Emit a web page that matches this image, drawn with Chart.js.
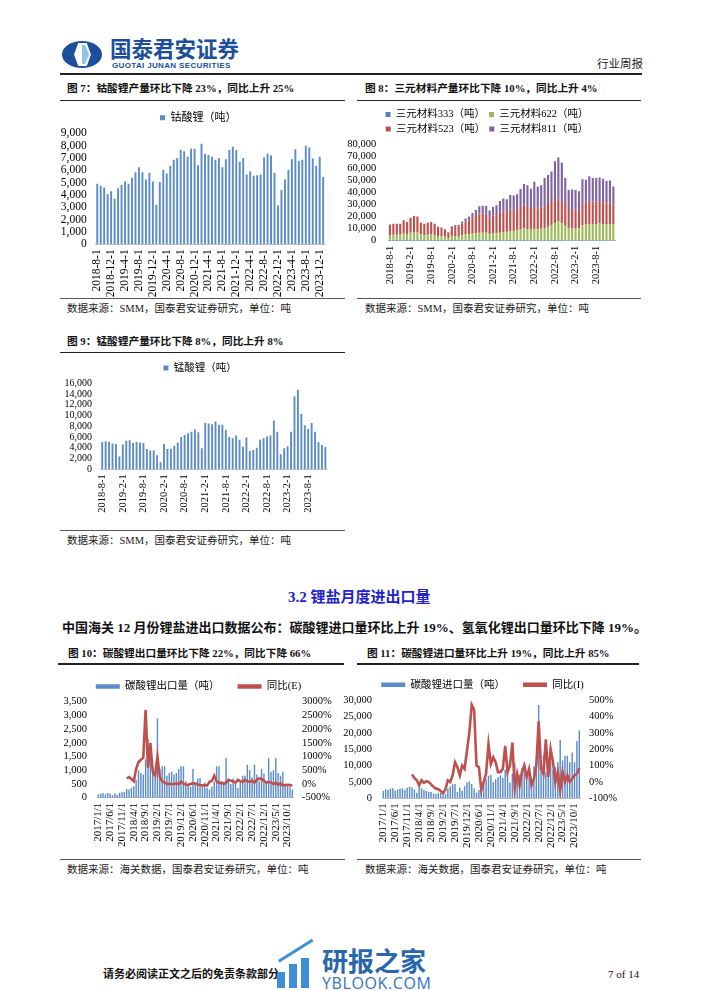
<!DOCTYPE html>
<html><head><meta charset="utf-8">
<script src="https://cdn.jsdelivr.net/npm/chart.js@4.4.1/dist/chart.umd.min.js"></script>
<style>
html,body{margin:0;padding:0;background:#fff;}
body{width:702px;height:991px;position:relative;overflow:hidden;font-family:'Liberation Serif','Noto Sans CJK SC',serif;color:#111;}
.t{position:absolute;white-space:nowrap;line-height:1;}
.r{position:absolute;background:#222;}
canvas{position:absolute;}
</style></head><body>

<!-- header -->
<div class="r" style="left:62px;top:41px;width:40px;height:27px;border-radius:50%;background:#1b4f9c"></div>
<div class="r" style="left:74px;top:43px;width:17px;height:23px;background:#fff;clip-path:polygon(25% 0,75% 0,100% 50%,75% 100%,25% 100%,0 50%)"></div>
<div class="r" style="left:82px;top:45px;width:7px;height:19px;background:#8fc3ea;clip-path:polygon(0 0,45% 0,100% 50%,45% 100%,0 100%)"></div>
<div class="t" style="left:110px;top:37px;font-family:'Noto Sans CJK SC';font-weight:bold;font-size:21.5px;color:#1b4f9c;">国泰君安证券</div>
<div class="t" style="left:112px;top:61.5px;font-family:'Liberation Sans';font-weight:bold;font-size:8px;color:#1b4f9c;letter-spacing:0.35px;">GUOTAI JUNAN SECURITIES</div>
<div class="t" style="left:597px;top:58px;font-family:'Noto Sans CJK SC';font-size:11.5px;color:#222;">行业周报</div>
<div class="r" style="left:60px;top:73px;width:582px;height:1.5px;"></div>

<!-- titles row 1 -->
<div class="t" style="left:67px;top:83px;font-weight:bold;font-size:10.7px;">图 7：钴酸锂产量环比下降 23%，同比上升 25%</div>
<div class="t" style="left:365px;top:83px;font-weight:bold;font-size:10.7px;">图 8：三元材料产量环比下降 10%，同比上升 4%</div>
<div class="r" style="left:60px;top:99.5px;width:285px;height:1.5px;"></div>
<div class="r" style="left:357px;top:99.5px;width:284px;height:1.5px;"></div>

<div class="r" style="left:60px;top:298px;width:285px;height:1px;background:#555"></div>
<div class="r" style="left:357px;top:298px;width:284px;height:1px;background:#555"></div>
<div class="t" style="left:67px;top:304px;font-size:10.5px;color:#222;">数据来源：SMM，国泰君安证券研究，单位：吨</div>
<div class="t" style="left:365px;top:304px;font-size:10.5px;color:#222;">数据来源：SMM，国泰君安证券研究，单位：吨</div>

<!-- chart 9 titles -->
<div class="t" style="left:67px;top:336px;font-weight:bold;font-size:10.7px;">图 9：锰酸锂产量环比下降 8%，同比上升 8%</div>
<div class="r" style="left:60px;top:351.5px;width:285px;height:1.5px;"></div>
<div class="r" style="left:60px;top:530px;width:285px;height:1px;background:#555"></div>
<div class="t" style="left:67px;top:536px;font-size:10.5px;color:#222;">数据来源：SMM，国泰君安证券研究，单位：吨</div>

<!-- section -->
<div class="t" style="left:288px;top:590px;font-weight:bold;font-size:15px;color:#2222cc;">3.2 锂盐月度进出口量</div>
<div class="t" style="left:62px;top:621px;font-weight:bold;font-size:13px;color:#111;">中国海关 12 月份锂盐进出口数据公布：碳酸锂进口量环比上升 19%、氢氧化锂出口量环比下降 19%。</div>

<div class="t" style="left:68px;top:648px;font-weight:bold;font-size:10.7px;">图 10：碳酸锂出口量环比下降 22%，同比下降 66%</div>
<div class="t" style="left:367px;top:648px;font-weight:bold;font-size:10.7px;">图 11：碳酸锂进口量环比上升 19%，同比上升 85%</div>
<div class="r" style="left:58px;top:663px;width:286px;height:1.5px;"></div>
<div class="r" style="left:357px;top:663px;width:282px;height:1.5px;"></div>
<div class="r" style="left:60px;top:859px;width:285px;height:1px;background:#555"></div>
<div class="r" style="left:357px;top:859px;width:284px;height:1px;background:#555"></div>
<div class="t" style="left:67px;top:865px;font-size:10.5px;color:#222;">数据来源：海关数据，国泰君安证券研究，单位：吨</div>
<div class="t" style="left:365px;top:865px;font-size:10.5px;color:#222;">数据来源：海关数据，国泰君安证券研究，单位：吨</div>

<!-- footer -->
<div class="t" style="left:103px;top:969px;font-weight:bold;font-size:11px;color:#111;">请务必阅读正文之后的免责条款部分</div>
<div class="t" style="left:608px;top:969px;font-size:11px;color:#111;">7 of 14</div>
<div class="r" style="left:277px;top:972px;width:8px;height:16px;background:#3f8fd8"></div>
<div class="r" style="left:289px;top:964px;width:8px;height:24px;background:#3f8fd8"></div>
<div class="r" style="left:301px;top:958px;width:8px;height:30px;background:#3f8fd8"></div>
<div class="r" style="left:278px;top:960px;width:40px;height:3px;background:#3f8fd8;transform:rotate(-32deg);transform-origin:0 0;"></div>
<div class="t" style="left:322px;top:947px;font-family:'Noto Sans CJK SC';font-weight:bold;font-size:26px;color:#2a66ad;">研报之家</div>
<div class="t" style="left:322px;top:975px;font-family:'Open Sans';font-size:16px;color:#3473bd;letter-spacing:0.6px;">YBLOOK.COM</div>

<canvas id="c7" width="284" height="200" style="left:58px;top:100px"></canvas>
<canvas id="c8" width="285" height="187" style="left:346px;top:100px"></canvas>
<canvas id="c9" width="283" height="168" style="left:60px;top:352px"></canvas>
<canvas id="c10" width="275" height="200" style="left:61px;top:650px"></canvas>
<canvas id="c11" width="281" height="201" style="left:342px;top:650px"></canvas>

<script>
// ---------- data ----------
const monthsA = ['2018-8-1','2018-9-1','2018-10-1','2018-11-1','2018-12-1',
'2019-1-1','2019-2-1','2019-3-1','2019-4-1','2019-5-1','2019-6-1','2019-7-1','2019-8-1','2019-9-1','2019-10-1','2019-11-1','2019-12-1',
'2020-1-1','2020-2-1','2020-3-1','2020-4-1','2020-5-1','2020-6-1','2020-7-1','2020-8-1','2020-9-1','2020-10-1','2020-11-1','2020-12-1',
'2021-1-1','2021-2-1','2021-3-1','2021-4-1','2021-5-1','2021-6-1','2021-7-1','2021-8-1','2021-9-1','2021-10-1','2021-11-1','2021-12-1',
'2022-1-1','2022-2-1','2022-3-1','2022-4-1','2022-5-1','2022-6-1','2022-7-1','2022-8-1','2022-9-1','2022-10-1','2022-11-1','2022-12-1',
'2023-1-1','2023-2-1','2023-3-1','2023-4-1','2023-5-1','2023-6-1','2023-7-1','2023-8-1','2023-9-1','2023-10-1','2023-11-1','2023-12-1',
'2024-1-1'];

const licoo2 = [4900,4750,4600,4050,4300,
3700,4550,4800,5100,4900,5400,5850,6250,5850,5250,5800,5100,
3200,5050,6050,5750,6350,6850,7000,7650,7550,7100,7750,7750,
6400,8150,7350,7250,7100,6850,7000,6250,6900,7650,7900,7650,
6700,7000,5650,5900,5550,5600,5650,7050,7350,7200,5800,3150,
4400,5250,6050,6900,7700,6750,6850,8000,7850,6950,6350,7100,
5450];

const ncm333 = [700,700,700,700,800,800,900,900,900,700,600,600,600,600,500,500,400,300,500,500,500,600,600,600,700,700,700,700,700,600,600,600,600,600,600,600,600,600,600,600,600,600,500,500,500,500,500,500,500,500,500,400,400,400,400,400,400,400,400,400,400,400,400,400,400,400];
const ncm622 = [4000,4200,4300,4300,5000,4700,5800,6300,6000,4500,4000,4300,4500,4000,3300,3200,2800,2000,3300,3500,3500,4000,4500,4800,5200,5500,6000,6000,6000,4800,5300,5500,6000,6500,6800,7500,7500,8000,8500,9500,9000,8500,9000,9000,9500,10000,11000,12500,14000,15500,14000,12000,10000,9500,9500,10000,12500,13000,13500,13500,13500,14000,13500,13000,13500,13500];
const ncm523 = [8800,9100,9000,9000,11200,10000,12300,13300,13100,9800,9400,10100,10400,9400,7700,7300,6300,4700,7700,8000,7800,9600,10900,11600,13100,14300,15800,16000,15800,13600,15100,15400,16900,17400,16600,17900,17400,17400,18900,19900,19400,18000,18500,17500,17500,18500,19000,20000,19000,19000,18500,18000,16000,16500,16000,15500,18000,18000,19000,18500,18500,18500,18000,17500,17500,16000];
const ncm811 = [0,0,0,0,0,0,0,0,0,0,0,0,0,0,0,0,0,0,500,1000,1200,1800,2500,3000,4000,5000,6000,6300,6500,6000,7000,8000,9500,10500,10500,12000,12000,12500,15000,17000,17000,16000,21000,18000,18500,23000,24000,24500,32500,34000,32000,21600,15600,16100,16100,15100,20100,19100,20600,19600,19600,19600,19600,18600,18600,15100];

const limn2o4 = [5100,5200,5100,4800,4700,2400,4600,5300,5400,4900,5100,5000,4900,3800,3500,3500,2600,1300,4700,3800,3800,4400,5000,6000,6400,6700,7000,7400,6900,3900,8600,8500,8400,8900,8300,8300,7300,6000,5800,6300,5500,4200,5900,3400,3600,4000,5500,5800,6100,6300,9100,7000,2800,3900,4300,7000,13600,14800,10300,8200,7500,8600,7000,5100,4500,4200];

const monthsB = ['2017/1/1','2017/2/1','2017/3/1','2017/4/1','2017/5/1','2017/6/1','2017/7/1','2017/8/1','2017/9/1','2017/10/1','2017/11/1','2017/12/1',
'2018/1/1','2018/2/1','2018/3/1','2018/4/1','2018/5/1','2018/6/1','2018/7/1','2018/8/1','2018/9/1','2018/10/1','2018/11/1','2018/12/1',
'2019/1/1','2019/2/1','2019/3/1','2019/4/1','2019/5/1','2019/6/1','2019/7/1','2019/8/1','2019/9/1','2019/10/1','2019/11/1','2019/12/1',
'2020/2/1','2020/3/1','2020/4/1','2020/5/1','2020/6/1','2020/7/1','2020/8/1','2020/9/1','2020/10/1','2020/11/1','2020/12/1',
'2021/1/1','2021/2/1','2021/3/1','2021/4/1','2021/5/1','2021/6/1','2021/7/1','2021/8/1','2021/9/1','2021/10/1','2021/11/1','2021/12/1',
'2022/1/1','2022/2/1','2022/3/1','2022/4/1','2022/5/1','2022/6/1','2022/7/1','2022/8/1','2022/9/1','2022/10/1','2022/11/1','2022/12/1',
'2023/1/1','2023/2/1','2023/3/1','2023/4/1','2023/5/1','2023/6/1','2023/7/1','2023/8/1','2023/9/1','2023/10/1','2023/11/1','2023/12/1'];

const exportQty = [120,150,170,130,170,150,90,160,110,180,200,210,
320,300,360,420,650,1000,900,850,1400,2150,1900,1150,
700,2900,1050,1150,1150,800,900,950,850,900,1050,1150,
1150,600,450,400,1050,500,700,720,500,550,350,
300,400,600,1150,1150,600,550,1450,600,500,700,500,
350,550,800,800,1200,1000,750,1200,850,600,1050,880,
600,1450,950,1000,1450,900,800,950,450,500,390,300];

const exportYoY = [null,null,null,null,null,null,null,null,null,null,null,null,
200,250,180,100,550,800,880,950,2700,600,1500,450,
300,1000,250,100,50,0,10,-10,0,20,0,80,
10,-20,-30,0,30,20,-20,-40,-50,-40,-60,
80,120,300,100,30,50,0,50,150,120,100,50,
150,100,80,150,100,80,120,50,150,200,180,120,
50,80,50,-10,50,-30,20,-50,-40,-30,-40,-66];

const importQty = [2200,2800,2500,3000,3100,2300,2700,3000,3100,2600,3200,3500,
3400,2700,1700,3500,3100,2500,2200,2000,1900,1500,1300,1700,
1600,900,1200,3000,3600,4300,4400,1900,3300,2300,3700,4800,
5200,4400,3000,1800,2500,3300,4600,5800,6900,7200,5000,
5800,6500,7000,6300,8800,9600,4800,7600,10600,8000,7200,9200,
11000,6000,8500,5600,9800,12000,28500,10000,13000,8000,10000,11200,
8500,9500,11000,17800,11500,13000,13000,11000,14000,11000,17500,20800];

const importYoY = [null,null,null,null,null,null,null,null,null,null,null,null,
45,25,10,-20,10,-5,5,0,-15,-30,-40,-45,
-55,-70,-45,10,0,40,120,90,40,100,80,190,
300,470,440,100,90,-50,0,50,230,110,150,
120,60,60,80,220,60,100,240,-40,50,-20,60,
100,30,80,-20,20,100,370,80,50,260,30,200,
120,0,60,-50,60,0,40,0,20,40,50,85];

// ---------- styling ----------
const BAR = '#5b8bc8';
const BLUE = '#4f81bd', RED = '#c0504d', GREEN = '#9bbb59', PURPLE = '#8064a2';
const FAM = "'Liberation Serif','Noto Sans CJK SC',serif";
Chart.defaults.font.family = FAM;
Chart.defaults.color = '#000';

const base = (pad) => ({
  responsive:false, devicePixelRatio:1, animation:false, events:[],
  layout:{padding:pad},
  plugins:{tooltip:{enabled:false}}
});
const xAxis = (labels, step, size, h) => ({
  grid:{display:false, drawTicks:false},
  border:{display:true, color:'#bfbfbf', width:1},
  ticks:{autoSkip:false, maxRotation:90, minRotation:90, padding:5, font:{size:size}, color:'#000',
         callback:(v,i)=> (i % step === 0) ? labels[i] : ''},
  afterFit:(s)=>{ s.height = h; }
});
const yAxis = (max, step, size, w, pad, pos, fmt, min) => ({
  position:pos||'left', min:(min===undefined?0:min), max:max,
  grid:{display:false, drawTicks:false}, border:{display:false},
  ticks:{stepSize:step, autoSkip:false, padding:pad, font:{size:size}, color:'#000', callback:fmt},
  afterFit:(s)=>{ s.width = w; }
});
const comma = (v)=> v.toLocaleString('en-US');
const pct = (v)=> v + '%';

// chart 7
(function(){
  const o = base({top:8.3, right:3.5, left:0, bottom:0});
  o.plugins.legend = {position:'top', labels:{boxWidth:5, boxHeight:5, padding:4, font:{size:11}, color:'#000'}};
  o.scales = {x:xAxis(monthsA,4,11.5,55.7), y:yAxis(9000,1000,11.5,37.5,8.8,'left',comma)};
  new Chart(document.getElementById('c7'), {type:'bar',
    data:{labels:monthsA, datasets:[{label:'钴酸锂（吨）', data:licoo2, backgroundColor:BAR, barPercentage:0.55, categoryPercentage:1}]},
    options:o});
})();

// chart 8
(function(){
  const o = base({top:5.3, right:2.9, left:0, bottom:0});
  o.plugins.legend = {position:'top', labels:{boxWidth:5, boxHeight:5, padding:4, font:{size:10.5}, color:'#000'}};
  const x = xAxis(monthsA,6,10.5,46.3); x.stacked = true;
  const y = yAxis(80000,10000,10.5,42.2,12,'left',comma); y.stacked = true;
  o.scales = {x:x, y:y};
  const ds = (label, data, c) => ({label:label, data:data, backgroundColor:c, barPercentage:0.62, categoryPercentage:1});
  new Chart(document.getElementById('c8'), {type:'bar',
    data:{labels:monthsA, datasets:[
      ds('三元材料333（吨）', ncm333, BLUE),
      ds('三元材料622（吨）', ncm622, GREEN),
      ds('三元材料523（吨）', ncm523, RED),
      ds('三元材料811（吨）', ncm811, PURPLE)]},
    options:o});
})();

// chart 9
(function(){
  const o = base({top:7.8, right:2.9, left:0, bottom:0});
  o.plugins.legend = {position:'top', labels:{boxWidth:5, boxHeight:5, padding:3, font:{size:10.5}, color:'#000'}};
  o.scales = {x:xAxis(monthsA,6,10.5,50.7), y:yAxis(16000,2000,10,40.5,8.5,'left',comma)};
  new Chart(document.getElementById('c9'), {type:'bar',
    data:{labels:monthsA, datasets:[{label:'锰酸锂（吨）', data:limn2o4, backgroundColor:BAR, barPercentage:0.55, categoryPercentage:1}]},
    options:o});
})();

// combo helper
function combo(id, barLabel, barData, lineLabel, lineData, yMax, yStep, y1Min, y1Max, y1Step, yW, y1W, padTop, xH){
  const o = base({top:padTop, right:0, left:0, bottom:0});
  o.plugins.legend = {position:'top', labels:{boxWidth:24, boxHeight:4.5, padding:18, font:{size:10.5}, color:'#000',
    sort:(a,b)=>a.datasetIndex-b.datasetIndex,
    generateLabels:(ch)=>Chart.defaults.plugins.legend.labels.generateLabels(ch).map(l=>{l.lineWidth=0; return l;})}};
  o.scales = {
    x:xAxis(monthsB,5,11,xH),
    y:yAxis(yMax,yStep,10.5,yW,10,'left',comma),
    y1:yAxis(y1Max,y1Step,10.5,y1W,8.5,'right',pct,y1Min)
  };
  new Chart(document.getElementById(id), {
    data:{labels:monthsB, datasets:[
      {type:'bar', label:barLabel, data:barData, backgroundColor:BAR, barPercentage:0.6, categoryPercentage:1, yAxisID:'y', order:2},
      {type:'line', label:lineLabel, data:lineData, borderColor:RED, backgroundColor:RED, borderWidth:2.6, pointRadius:0, tension:0, yAxisID:'y1', order:1}
    ]},
    options:o});
}
combo('c10','碳酸锂出口量（吨）',exportQty,'同比(E)',exportYoY,3500,500,-500,3000,500,36.1,42.5,13.2,52.3);
combo('c11','碳酸锂进口量（吨）',importQty,'同比(I)',importYoY,30000,5000,-100,500,100,40.1,42.5,11.5,52.7);
</script>
</body></html>
